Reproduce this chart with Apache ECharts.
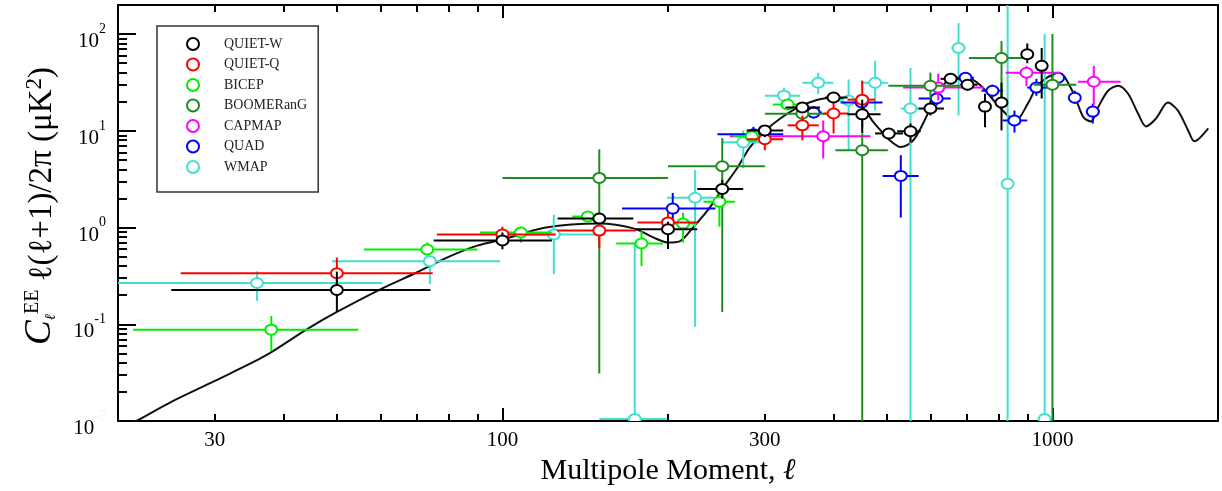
<!DOCTYPE html>
<html>
<head>
<meta charset="utf-8">
<script src="https://cdn.jsdelivr.net/npm/echarts@6/dist/echarts.min.js"></script>
<style>
html,body{margin:0;padding:0;background:#fff;}
#c{width:1222px;height:491px;}
</style>
</head>
<body>
<div id="c"></div>
<script>
const FONT = '"Liberation Serif","Times New Roman",serif';

// ---- theory curve (multipole l, C_l^EE l(l+1)/2pi in uK^2)
const curveEll = [20, 21.6, 25, 30, 37, 44, 50, 60, 70, 80, 90, 100, 120, 150, 173, 190, 200, 210, 222, 238, 251, 267, 282, 301, 320, 344, 374, 400, 430, 450, 473, 487, 501, 530, 559, 600, 626, 653, 701, 741, 782, 829, 858, 902, 940, 1000, 1035, 1079, 1111, 1140, 1175, 1210, 1262, 1316, 1372, 1431, 1480, 1543, 1622, 1691, 1765, 1811, 1920];
const curveVal = [0.008, 0.01, 0.0158, 0.026, 0.047, 0.088, 0.134, 0.23, 0.345, 0.5, 0.65, 0.75, 1.0, 1.1, 0.98, 0.77, 0.70, 0.72, 1.0, 1.6, 2.5, 4.1, 6.8, 10.1, 13.4, 17.4, 21, 22, 21, 18, 12.2, 10.1, 8.4, 6.8, 8.0, 17, 27, 34.5, 35.4, 29.3, 20.6, 14.4, 12.8, 19.1, 29.3, 38, 38.9, 28, 19.1, 13.7, 12.5, 17.4, 26, 29.3, 24.3, 15.1, 11.1, 13.4, 19.6, 16.2, 10.1, 7.8, 10.6];

// ---- measurements: [l, value, lLow, lHigh, valueLow, valueHigh]
const quietW = [
  [50, 0.226, 25, 74, 0.135, 0.35],
  [100, 0.735, 75, 123, 0.595, 0.89],
  [150, 1.24, 126, 173, 1.1, 1.4],
  [200, 0.96, 175, 226, 0.6, 1.15],
  [251, 2.5, 226, 274, 2.0, 3.1],
  [300, 10.1, 278, 324, 8.6, 11.4],
  [351, 17.4, 327, 378, 15.5, 19.6],
  [400, 22.1, 386, 424, 20.5, 23.8],
  [451, 14.8, 424, 487, 9.5, 21],
  [504, 9.4, 476, 535, 8.2, 10.6],
  [552, 9.9, 522, 576, 7.6, 11.9],
  [600, 17.0, 571, 635, 14.4, 20.6],
  [653, 34.5, 626, 680, 31, 38],
  [701, 30, 680, 731, 26, 34],
  [754, 17.8, 742, 766, 10.9, 24.2],
  [808, 19.6, 796, 820, 10.1, 31.4],
  [900, 62, 888, 912, 50, 80],
  [956, 47, 944, 968, 21.6, 72]
];
const quietQ = [
  [50, 0.337, 26, 74.7, 0.22, 0.49],
  [100, 0.85, 76, 125, 0.67, 1.02],
  [150, 0.93, 125.6, 175, 0.62, 1.07],
  [200, 1.13, 176, 226, 0.6, 1.42],
  [300, 8.2, 278, 324, 6.3, 10.1],
  [351, 11.4, 330, 376, 8.0, 14.4],
  [400, 15.1, 383, 425, 9.4, 20.6],
  [451, 21, 424, 476, 10.9, 33]
];
const bicep = [
  [38, 0.088, 21.3, 54.7, 0.053, 0.122],
  [73, 0.594, 56, 90, 0.53, 0.70],
  [108, 0.89, 91, 123, 0.70, 1.02],
  [143, 1.3, 134, 152, 1.15, 1.45],
  [179, 0.685, 161, 196, 0.40, 0.92],
  [213, 1.1, 199, 226, 0.70, 1.42],
  [248, 1.85, 232, 265, 1.02, 2.3],
  [284, 8.8, 263, 303, 7.8, 9.9],
  [330, 18.7, 310, 344, 16.8, 20.5]
];
const boomerang = [
  [150, 3.26, 100, 200, 0.031, 6.45],
  [251, 4.3, 200, 300, 0.134, 8.4],
  [351, 15, 300, 400, 12, 18],
  [451, 6.3, 403, 502, 0.001, 9.4],
  [600, 29.3, 503, 680, 21.6, 40],
  [808, 56.7, 705, 900, 20, 85],
  [1000, 30, 925, 1105, 0.001, 100]
];
const capmap = [
  [383, 8.8, 259, 467, 5.2, 12.8],
  [620, 28, 535, 751, 20.6, 39],
  [897, 39.8, 822, 1035, 29, 47],
  [1189, 32.2, 1113, 1330, 18.3, 47]
];
const quad = [
  [204, 1.57, 165, 244, 1.15, 2.28],
  [286, 9.2, 246, 324, 8.0, 11],
  [368, 15.5, 355, 381, 13.4, 18],
  [450, 19.6, 412, 491, 17.5, 22],
  [530, 3.42, 491, 571, 1.27, 5.6],
  [616, 21.6, 571, 653, 18.3, 26],
  [695, 35.4, 670, 720, 32, 39],
  [778, 26, 743, 814, 22, 30],
  [853, 12.8, 812, 900, 9.6, 16.2],
  [935, 28, 900, 980, 23, 34.5],
  [1024, 35.4, 1000, 1050, 31, 40],
  [1098, 22, 1078, 1120, 19, 26],
  [1184, 15.8, 1150, 1220, 11.9, 19.1]
];
const wmap = [
  [35.8, 0.267, 2, 60.5, 0.174, 0.354],
  [73.8, 0.448, 49, 99, 0.26, 0.50],
  [124, 0.85, 100, 150, 0.33, 1.36],
  [174, 0.0105, 150, 199, 0.001, 0.7],
  [224, 2.03, 199, 244, 0.094, 3.93],
  [274, 7.6, 251, 300, 4.1, 10.1],
  [325, 23.1, 300, 348, 19, 28],
  [375, 31.4, 351, 400, 24, 40],
  [426, 20.6, 400, 450, 6.3, 34],
  [476, 31.4, 449, 502, 16.2, 53],
  [552, 17.0, 530, 575, 0.001, 44.7],
  [675, 71.8, 655, 695, 14.4, 130],
  [829, 2.83, 810, 850, 0.001, 300],
  [968, 0.0105, 945, 990, 0.001, 100]
];

const seriesNames = ['QUIET-W', 'QUIET-Q', 'BICEP', 'BOOMERanG', 'CAPMAP', 'QUAD', 'WMAP'];
const seriesData = [quietW, quietQ, bicep, boomerang, capmap, quad, wmap];
const seriesColors = ['#000000', '#ff0000', '#00ee00', '#1e8c1e', '#ff00ff', '#0000ff', '#40e0d0'];

// ---- ticks & labels
const xMajorTicks = [100, 1000];
const xMinorTicks = [30, 40, 50, 60, 70, 80, 90, 200, 300, 400, 500, 600, 700, 800, 900];
const xLabelValues = [30, 100, 300, 1000];
const yMajorTicks = [0.01, 0.1, 1, 10, 100];
const yMinorTicks = [0.02,0.03,0.04,0.05,0.06,0.07,0.08,0.09,0.2,0.3,0.4,0.5,0.6,0.7,0.8,0.9,2,3,4,5,6,7,8,9,20,30,40,50,60,70,80,90];
const X_MIN = 20, X_MAX = 2000, Y_MIN = 0.01, Y_MAX = 200;

function renderErr(params, api) {
  const l = api.value(0), v = api.value(1);
  const c = api.coord([l, v]);
  const xl = api.coord([api.value(2), v]);
  const xh = api.coord([api.value(3), v]);
  const yl = api.coord([l, api.value(4)]);
  const yh = api.coord([l, api.value(5)]);
  const color = api.visual('color');
  return {
    type: 'group',
    children: [
      {type: 'line', shape: {x1: xl[0], y1: c[1], x2: xh[0], y2: c[1]}, style: {stroke: color, lineWidth: 2}},
      {type: 'line', shape: {x1: c[0], y1: yl[1], x2: c[0], y2: yh[1]}, style: {stroke: color, lineWidth: 2}},
      {type: 'ellipse', shape: {cx: c[0], cy: c[1], rx: 6, ry: 5}, style: {fill: '#fff', stroke: color, lineWidth: 2}}
    ]
  };
}

const series = [{
  type: 'line',
  name: 'theory',
  data: curveEll.map((e, i) => [e, curveVal[i]]),
  showSymbol: false,
  smooth: 0.3,
  clip: true,
  lineStyle: {color: '#111', width: 2},
  z: 1,
  silent: true
}];
for (let i = seriesNames.length - 1; i >= 0; i--) {
  series.push({
    type: 'custom',
    name: seriesNames[i],
    data: seriesData[i],
    dimensions: ['l', 'v', 'l0', 'l1', 'v0', 'v1'],
    encode: {x: 0, y: 1},
    renderItem: renderErr,
    itemStyle: {color: seriesColors[i]},
    clip: true,
    z: 2 + (seriesNames.length - i)
  });
}

const tickStyle = {color: '#000', width: 2};
const axLine = {show: true, lineStyle: {color: '#000', width: 2}};
function xAx(pos, major, showLine) {
  return {
    type: 'log', logBase: 10, min: X_MIN, max: X_MAX, position: pos,
    axisLine: showLine ? axLine : {show: false},
    axisTick: {show: true, inside: true, length: major ? 13 : 7, lineStyle: tickStyle,
               customValues: major ? xMajorTicks : xMinorTicks},
    axisLabel: {show: false},
    splitLine: {show: false}
  };
}

const xAxes = [xAx('bottom', true, true), xAx('bottom', false, false), xAx('top', true, true), xAx('top', false, false)];
xAxes[0].axisLabel = {
  show: true, customValues: xLabelValues, margin: 9,
  fontSize: 21, fontFamily: FONT, color: '#000',
  formatter: v => String(Math.round(v))
};
xAxes[0].name = '{t|Multipole Moment, }{l|ℓ}';
xAxes[0].nameLocation = 'middle';
xAxes[0].nameGap = 35;
xAxes[0].nameTextStyle = {
  rich: {
    t: {fontSize: 30, fontFamily: FONT, color: '#000'},
    l: {fontSize: 30, fontFamily: FONT, fontStyle: 'italic', color: '#000'}
  }
};

function yAx(pos, major, showLine, noTicks) {
  return {
    type: 'log', logBase: 10, min: Y_MIN, max: Y_MAX, position: pos,
    axisLine: showLine ? axLine : {show: false},
    axisTick: noTicks ? {show: false} : {show: true, inside: true, length: major ? 18 : 9, lineStyle: tickStyle,
               customValues: major ? yMajorTicks : yMinorTicks},
    axisLabel: {show: false},
    splitLine: {show: false}
  };
}
const yAxes = [yAx('left', true, true), yAx('left', false, false), yAx('right', true, true, true)];
yAxes[0].axisLabel = {
  show: true, customValues: yMajorTicks, margin: 12,
  padding: [6, 0, 0, 0],
  formatter: function (v) {
    const e = Math.round(Math.log10(v));
    if (e === -2) return '{b|10}{h|-2}';
    return '{b|10}{s|' + e + '}';
  },
  rich: {
    b: {fontSize: 21, fontFamily: FONT, color: '#000', verticalAlign: 'bottom', lineHeight: 30},
    s: {fontSize: 14, fontFamily: FONT, color: '#000', verticalAlign: 'top', lineHeight: 30},
    h: {fontSize: 14, fontFamily: FONT, color: '#f4f4f4', verticalAlign: 'top', lineHeight: 30}
  }
};

const option = {
  animation: false,
  backgroundColor: '#fff',
  grid: {left: 118, right: 4, top: 5, bottom: 68, containLabel: false},
  xAxis: xAxes,
  yAxis: yAxes,
  legend: {
    data: seriesNames,
    orient: 'vertical',
    left: 157, top: 26,
    padding: [11, 11, 18, 29],
    itemGap: 6.5,
    itemWidth: 52, itemHeight: 12,
    icon: 'circle',
    selectedMode: false,
    borderColor: '#333', borderWidth: 1.5,
    itemStyle: {color: '#fff', borderColor: 'auto', borderWidth: 2},
    textStyle: {fontSize: 14, fontFamily: FONT, color: '#222'}
  },
  graphic: [{
    type: 'text',
    x: 41, y: 206,
    rotation: Math.PI / 2,
    style: {
      text: '{c|C}{sub|ℓ}{sup|EE}{m| ℓ(ℓ+1)/2π (μK}{s2|2}{m|)}',
      align: 'center', verticalAlign: 'middle',
      rich: {
        c: {fontSize: 37, fontStyle: 'italic', fontFamily: FONT, fill: '#000', verticalAlign: 'bottom', lineHeight: 36},
        sub: {fontSize: 15, fontStyle: 'italic', fontFamily: FONT, fill: '#000', verticalAlign: 'bottom', lineHeight: 18},
        sup: {fontSize: 20, fontFamily: FONT, fill: '#000', verticalAlign: 'top', lineHeight: 20},
        m: {fontSize: 33, fontFamily: FONT, fill: '#000', verticalAlign: 'bottom', lineHeight: 35},
        s2: {fontSize: 23, fontFamily: FONT, fill: '#000', verticalAlign: 'top', lineHeight: 23}
      }
    }
  }],
  series: series
};

const chart = echarts.init(document.getElementById('c'));
chart.setOption(option);
</script>
</body>
</html>
